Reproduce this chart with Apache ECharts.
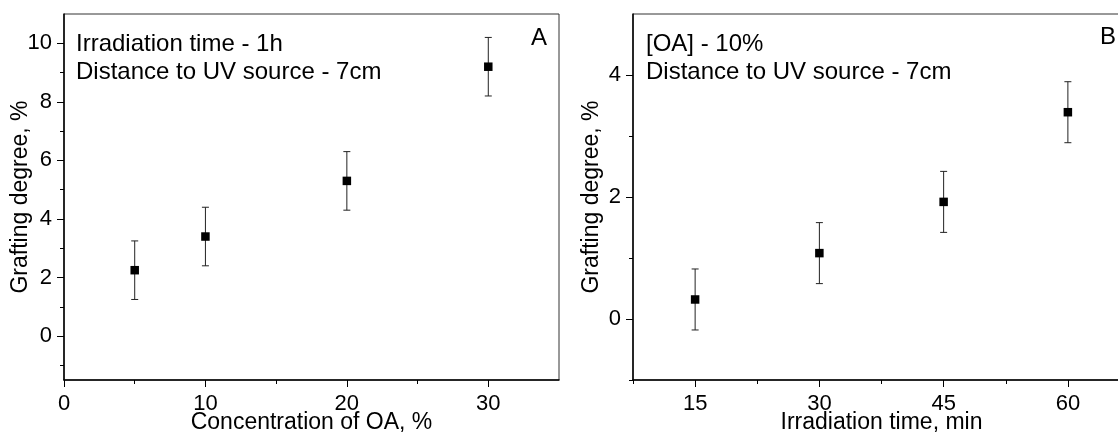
<!DOCTYPE html>
<html>
<head>
<meta charset="utf-8">
<script src="https://cdn.jsdelivr.net/npm/echarts@6/dist/echarts.min.js"></script>
<style>
html, body { margin: 0; padding: 0; background: #fff; }
#main { width: 1118px; height: 439px; }
</style>
</head>
<body>
<div id="main"></div>
<script>
// panel A: concentration of OA
var concA = [5, 10, 20, 30];
var gradeA = [2.25, 3.4, 5.3, 9.2];
var errA = [1.0, 1.0, 1.0, 1.0];
var xTicksA = [0, 10, 20, 30];
var xMinorA = [5, 15, 25];
var yTicksA = [0, 2, 4, 6, 8, 10];
var yMinorA = [-1, 1, 3, 5, 7, 9];

// panel B: irradiation time
var timeB = [15, 30, 45, 60];
var gradeB = [0.32, 1.08, 1.92, 3.39];
var errB = [0.5, 0.5, 0.5, 0.5];
var xTicksB = [15, 30, 45, 60];
var xMinorB = [7.5, 22.5, 37.5, 52.5];
var yTicksB = [0, 2, 4];
var yMinorB = [-1, 1, 3];

var FONT = '"Liberation Sans", Arial, sans-serif';

function points(xs, ys) {
    return xs.map(function (x, i) { return [x, ys[i]]; });
}
function bars(xs, ys, es) {
    return xs.map(function (x, i) { return [x, ys[i] - es[i], ys[i] + es[i]]; });
}

function renderErr(params, api) {
    var x = api.value(0);
    var lo = api.coord([x, api.value(1)]);
    var hi = api.coord([x, api.value(2)]);
    var w = 3.5;
    var st = { stroke: '#222', lineWidth: 1 };
    return {
        type: 'group',
        children: [
            { type: 'line', shape: { x1: lo[0], y1: lo[1], x2: hi[0], y2: hi[1] }, style: st },
            { type: 'line', shape: { x1: hi[0] - w, y1: hi[1], x2: hi[0] + w, y2: hi[1] }, style: st },
            { type: 'line', shape: { x1: lo[0] - w, y1: lo[1], x2: lo[0] + w, y2: lo[1] }, style: st }
        ]
    };
}

// main axis (labels + long ticks)
function mainAxis(grid, pos, min, max, ticks, name, gap, margin) {
    return {
        type: 'value', gridIndex: grid, position: pos, min: min, max: max,
        name: name, nameLocation: 'middle', nameGap: gap, nameMoveOverlap: false,
        nameTextStyle: { fontFamily: FONT, fontSize: 23, color: '#000' },
        axisLine: { show: true, onZero: false, lineStyle: { color: '#000', width: 1.5 } },
        axisTick: { show: true, inside: false, length: 7, customValues: ticks, lineStyle: { color: '#000', width: 1 } },
        axisLabel: { show: true, margin: margin, customValues: ticks, fontFamily: FONT, fontSize: 22, color: '#000' },
        splitLine: { show: false }
    };
}
// overlay axis for the short ticks
function minorAxis(grid, pos, min, max, ticks) {
    return {
        type: 'value', gridIndex: grid, position: pos, min: min, max: max,
        axisLine: { show: false, onZero: false },
        axisTick: { show: true, inside: false, length: 4, customValues: ticks, lineStyle: { color: '#000', width: 1 } },
        axisLabel: { show: false },
        splitLine: { show: false }
    };
}

var chart = echarts.init(document.getElementById('main'));
var option = {
    animation: false,
    backgroundColor: '#fff',
    grid: [
        { left: 64, top: 14, width: 495, height: 366, outerBoundsMode: 'none', show: true, borderColor: '#333', borderWidth: 1 },
        // right edge of panel B lies outside the picture
        { left: 633, top: 14, width: 497, height: 366, outerBoundsMode: 'none', show: true, borderColor: '#333', borderWidth: 1 }
    ],
    xAxis: [
        mainAxis(0, 'bottom', 0, 35, xTicksA, 'Concentration of OA, %', 31, 12.5),
        minorAxis(0, 'bottom', 0, 35, xMinorA),
        mainAxis(1, 'bottom', 7.5, 67.5, xTicksB, 'Irradiation time, min', 31, 12.5),
        minorAxis(1, 'bottom', 7.5, 67.5, xMinorB)
    ],
    yAxis: [
        mainAxis(0, 'left', -1.5, 11, yTicksA, 'Grafting degree, %', 32, 12),
        minorAxis(0, 'left', -1.5, 11, yMinorA),
        mainAxis(1, 'left', -1, 5, yTicksB, 'Grafting degree, %', 30, 12),
        minorAxis(1, 'left', -1, 5, yMinorB)
    ],
    graphic: [
        { type: 'text', style: { text: 'Irradiation time - 1h', x: 76, y: 44, verticalAlign: 'middle', font: '24px ' + FONT, fill: '#000' } },
        { type: 'text', style: { text: 'Distance to UV source - 7cm', x: 76, y: 72.5, verticalAlign: 'middle', font: '24px ' + FONT, fill: '#000' } },
        { type: 'text', style: { text: 'A', x: 539, y: 38, align: 'center', verticalAlign: 'middle', font: '24px ' + FONT, fill: '#000' } },
        { type: 'text', style: { text: '[OA] - 10%', x: 646, y: 44, verticalAlign: 'middle', font: '24px ' + FONT, fill: '#000' } },
        { type: 'text', style: { text: 'Distance to UV source - 7cm', x: 646, y: 72.5, verticalAlign: 'middle', font: '24px ' + FONT, fill: '#000' } },
        { type: 'text', style: { text: 'B', x: 1108, y: 37, align: 'center', verticalAlign: 'middle', font: '24px ' + FONT, fill: '#000' } }
    ],
    series: [
        { type: 'custom', xAxisIndex: 0, yAxisIndex: 0, renderItem: renderErr, encode: { x: 0, y: [1, 2] }, data: bars(concA, gradeA, errA), z: 2 },
        { type: 'scatter', xAxisIndex: 0, yAxisIndex: 0, symbol: 'rect', symbolSize: 8.5, itemStyle: { color: '#000', opacity: 1 }, data: points(concA, gradeA), z: 3 },
        { type: 'custom', xAxisIndex: 2, yAxisIndex: 2, renderItem: renderErr, encode: { x: 0, y: [1, 2] }, data: bars(timeB, gradeB, errB), z: 2 },
        { type: 'scatter', xAxisIndex: 2, yAxisIndex: 2, symbol: 'rect', symbolSize: 8.5, itemStyle: { color: '#000', opacity: 1 }, data: points(timeB, gradeB), z: 3 }
    ]
};
chart.setOption(option);
</script>
</body>
</html>
